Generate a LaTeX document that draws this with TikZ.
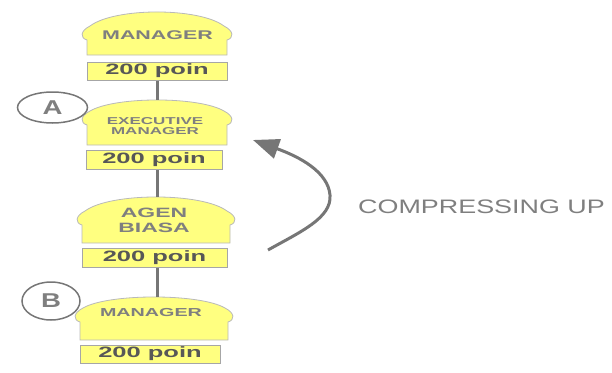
\documentclass[tikz,border=0pt]{standalone}
\usepackage{fontspec}
\newfontfamily\boxfont[FakeStretch=1.7]{Liberation Sans}
\newfontfamily\notefont[FakeStretch=1.38]{Liberation Sans}
\usetikzlibrary{arrows.meta,shapes.geometric}
\definecolor{bunyellow}{HTML}{FFFF80}
\definecolor{labelgray}{HTML}{7F7F7F}
\definecolor{poingray}{HTML}{575757}
\definecolor{linegray}{HTML}{767676}
\begin{document}
\begin{tikzpicture}[x=1pt, y=-1pt,
    bun/.style={fill=bunyellow, draw=gray!55, line width=0.8pt},
    poin/.style={rectangle, fill=bunyellow, draw=gray!70, line width=1pt, inner sep=0pt,
      font=\boxfont\bfseries\fontsize{15}{15}\selectfont, text=poingray},
    rank/.style 2 args={align=center, inner sep=0pt, text=labelgray,
      font=\boxfont\bfseries\fontsize{#1}{#2}\selectfont},
    tag/.style={ellipse, draw=linegray, line width=1.5pt, inner sep=0pt,
      font=\notefont\bfseries\fontsize{20}{20}\selectfont, text=labelgray},
    link/.style={linegray, line width=3pt},
  ]
  \useasboundingbox (0,0) rectangle (612,372);

  % penghubung antar jenjang
  \coordinate (top2) at (157,100);
  \coordinate (top3) at (157,197);
  \coordinate (top4) at (157,297);

  % kepala (bentuk kubah) tiap jenjang
  \draw[bun] (87,55) -- (87,40) .. controls (80,38) and (80,31) .. (90,26)
    .. controls (115,7.3) and (199,7.3) .. (224,26)
    .. controls (234,31) and (234,38) .. (227,40) -- (227,55) -- cycle;
  \draw[bun] (87,145) -- (87,125) .. controls (80,123) and (80,116) .. (90,111)
    .. controls (115,96.3) and (199,96.3) .. (224,111)
    .. controls (234,116) and (234,123) .. (227,125) -- (227,145) -- cycle;
  \draw[bun] (82,243) -- (82,225) .. controls (75,223) and (75,216) .. (85,211)
    .. controls (110,192.3) and (202,192.3) .. (227,211)
    .. controls (237,216) and (237,223) .. (230,225) -- (230,243) -- cycle;
  \draw[bun] (80,340) -- (80,322) .. controls (73,320) and (73,313) .. (83,308)
    .. controls (108,293.3) and (200,293.3) .. (225,308)
    .. controls (235,313) and (235,320) .. (228,322) -- (228,340) -- cycle;

  \node[rank={12.6}{13}] (m1) at (157.5,35.5) {MANAGER};
  \node[rank={10}{10}] (e1) at (155,126) {EXECUTIVE\\MANAGER};
  \node[rank={13.5}{15}] (a1) at (154,220.5) {AGEN\\BIASA};
  \node[rank={11.6}{12}] (m2) at (151,313) {MANAGER};

  % kotak poin
  \node[poin, minimum width=140, minimum height=18] (p1) at (157,71) {200 poin};
  \node[poin, minimum width=136, minimum height=19] (p2) at (154,160) {200 poin};
  \node[poin, minimum width=145, minimum height=19] (p3) at (154.5,257.5) {200 poin};
  \node[poin, minimum width=140, minimum height=18] (p4) at (150,354) {200 poin};

  \draw[link] (p1.south) -- (top2);
  \draw[link] (p2.south -| top3) -- (top3);
  \draw[link] (p3.south -| top4) -- (top4);

  % penanda A dan B
  \node[tag, minimum width=70, minimum height=31] (ta) at (52.5,107.5) {A};
  \node[tag, minimum width=58, minimum height=38] (tb) at (51,301) {B};

  % panah naik
  \coordinate (up0) at (268,250);
  \coordinate (up1) at (253,140);
  \draw[link, -{Triangle[length=26pt, width=20pt]}] (up0)
    .. controls (300,232) and (332,218) .. (330,195)
    .. controls (328,172) and (300,157) .. (up1);
  \node[inner sep=0pt, text=labelgray, font=\notefont\fontsize{19.5}{20}\selectfont]
    (cu) at (481.5,207) {COMPRESSING UP};
\end{tikzpicture}
\end{document}
